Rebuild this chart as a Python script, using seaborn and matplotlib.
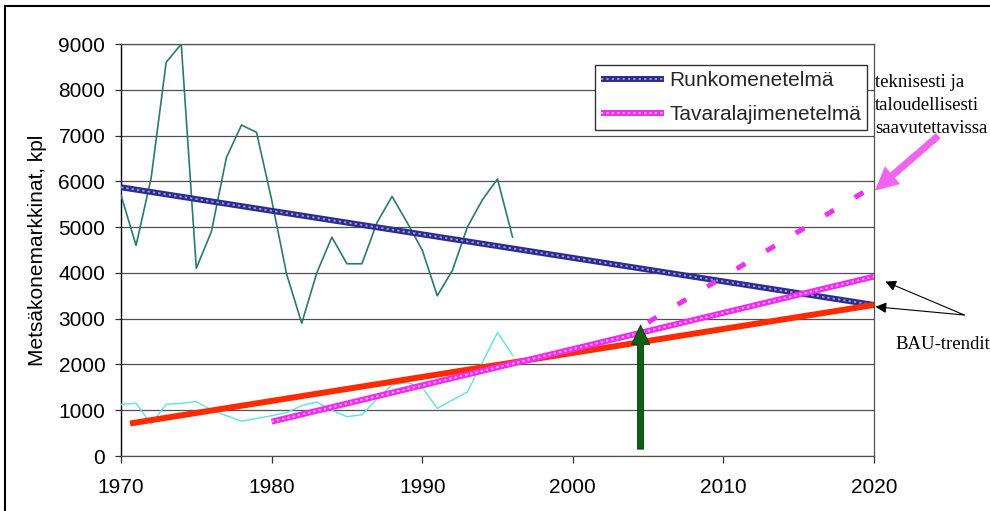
import matplotlib
matplotlib.use("Agg")
import matplotlib.pyplot as plt
import seaborn as sns
from matplotlib.legend_handler import HandlerTuple
from matplotlib.patches import Rectangle

# Observed annual machine counts
years = list(range(1970, 1997))
runko_obs = [5700, 4600, 6070, 8600, 9000, 4100, 4900, 6520, 7230, 7070,
             5600, 3970, 2900, 4000, 4780, 4200, 4200, 5100, 5670, 5100,
             4500, 3500, 4050, 5000, 5600, 6050, 4780]
tavara_obs = [1130, 1150, 700, 1130, 1150, 1190, 1000, 880, 760, 820,
              880, 950, 1100, 1180, 1000, 860, 900, 1250, 1550, 1600,
              1500, 1040, 1220, 1400, 2050, 2700, 2200]

# Trend lines (end points)
runko_trend_years = [1970, 2020]
runko_trend = [5870, 3300]
tavara_trend_years = [1980, 2020]
tavara_trend = [750, 3920]
bau_years = [1970.6, 2020]
bau_trend = [710, 3300]
potential_years = [2005, 2020]
potential = [2920, 5900]
marker_year = 2004.5
marker_span = [150, 2860]

legend_labels = ["Runkomenetelmä", "Tavaralajimenetelmä"]
y_title = "Metsäkonemarkkinat, kpl"
note_lines = ["teknisesti ja", "taloudellisesti", "saavutettavissa"]
bau_label = "BAU-trendit"
x_ticks = [1970, 1980, 1990, 2000, 2010, 2020]
y_ticks = list(range(0, 10000, 1000))

sns.set_theme(style="white")
plt.rcParams["font.family"] = ["Liberation Sans", "DejaVu Sans"]

W, H = 990, 511
fig = plt.figure(figsize=(W / 100, H / 100), dpi=100)
fig.patch.set_facecolor("white")
ax = fig.add_axes([121 / W, 1 - 456 / H, 753 / W, 412 / H])
ax.set_facecolor("white")

# observed series
sns.lineplot(x=years, y=runko_obs, ax=ax, color="#2b7a6e", linewidth=1.2, zorder=3)
sns.lineplot(x=years, y=tavara_obs, ax=ax, color="#5fe3e3", linewidth=1.0, zorder=3)


def textured(x, y, base, accent, lw=4.3, z=4):
    sns.lineplot(x=x, y=y, ax=ax, color=base, linewidth=lw, zorder=z)
    l1 = ax.lines[-1]
    l1.set_solid_capstyle("butt")
    sns.lineplot(x=x, y=y, ax=ax, color=accent, linewidth=lw * 0.3, zorder=z + 0.1)
    l2 = ax.lines[-1]
    l2.set_dashes((1.3, 1.7))
    l2.set_dash_capstyle("butt")
    return (l1, l2)


h_runko = textured(runko_trend_years, runko_trend, "#2d2d8e", "#9c9ce2")
sns.lineplot(x=bau_years, y=bau_trend, ax=ax, color="#ff2a00", linewidth=4.3, zorder=4.5)
ax.lines[-1].set_solid_capstyle("butt")
h_tavara = textured(tavara_trend_years, tavara_trend, "#f02cf0", "#ffb4ff", z=4.6)

sns.lineplot(x=potential_years, y=potential, ax=ax, color="#f030f0", linewidth=3.6, zorder=4.6)
ax.lines[-1].set_dashes((2.0, 4.9))
ax.lines[-1].set_dash_capstyle("butt")

# vertical green arrow
ax.annotate("", xy=(marker_year, marker_span[1]), xytext=(marker_year, marker_span[0]),
            arrowprops=dict(facecolor="#0f5f12", edgecolor="#0a3a0a", lw=0.6,
                            width=4.3, headwidth=13, headlength=14, shrink=0),
            zorder=6)

ax.set_xlim(1970, 2020)
ax.set_ylim(0, 9000)
ax.set_xticks(x_ticks)
ax.set_yticks(y_ticks)
ax.yaxis.grid(True, color="#505050", linewidth=0.9)
ax.xaxis.grid(False)
ax.set_axisbelow(True)
for side in ["top", "right", "bottom"]:
    ax.spines[side].set_color("#505050")
    ax.spines[side].set_linewidth(0.9)
ax.spines["left"].set_color("black")
ax.spines["left"].set_linewidth(1.0)
ax.tick_params(axis="x", bottom=True, direction="out", length=5, width=0.9,
               color="#333333", labelsize=15, labelcolor="black", pad=11)
ax.tick_params(axis="y", left=True, direction="out", length=4.3, width=0.9,
               color="#333333", labelsize=15, labelcolor="black", pad=7)
ax.set_xlabel("")
ax.set_ylabel(y_title, fontsize=15, color="black")
ax.yaxis.set_label_coords((47 - 121) / 753, 0.5)

leg = ax.legend(handles=[h_runko, h_tavara], labels=legend_labels,
                handler_map={tuple: HandlerTuple(ndivide=1)},
                loc="upper left", bbox_to_anchor=(595 / W, 1 - 65 / H),
                bbox_transform=fig.transFigure, borderaxespad=0,
                fontsize=15, handlelength=3.05, handletextpad=0.25,
                labelspacing=0.72, borderpad=0.28, fancybox=False,
                framealpha=1, edgecolor="#333333")
leg.get_frame().set_linewidth(1.0)
leg.set_zorder(10)

# notes to the right of the plot
serif = ["Liberation Serif", "DejaVu Serif"]
for i, line in enumerate(note_lines):
    fig.text(875 / W, 1 - (87.3 + 23 * i) / H, line, family=serif, fontsize=13.5,
             ha="left", va="baseline", color="black")
fig.text(895 / W, 1 - 349.3 / H, bau_label, family=serif, fontsize=13.5,
         ha="left", va="baseline", color="black")

ax.annotate("", xy=(2020.1, 5810), xytext=(2024.25, 6990),
            arrowprops=dict(facecolor="#f064f0", edgecolor="#f064f0", lw=0.5,
                            width=4.6, headwidth=16, headlength=16, shrink=0),
            annotation_clip=False, zorder=7)
for tip in [(2020.75, 3810), (2020.1, 3260)]:
    ax.annotate("", xy=tip, xytext=(2026.0, 3080),
                arrowprops=dict(arrowstyle="-|>", color="black", lw=0.8,
                                mutation_scale=16, shrinkA=0, shrinkB=0),
                annotation_clip=False, zorder=7)

# outer frame
fig.add_artist(Rectangle((5 / W, -0.1), 1.2, 1.1 - 6 / H, transform=fig.transFigure,
                         fill=False, edgecolor="black", linewidth=1.5))

fig.savefig("out.png", dpi=100)
